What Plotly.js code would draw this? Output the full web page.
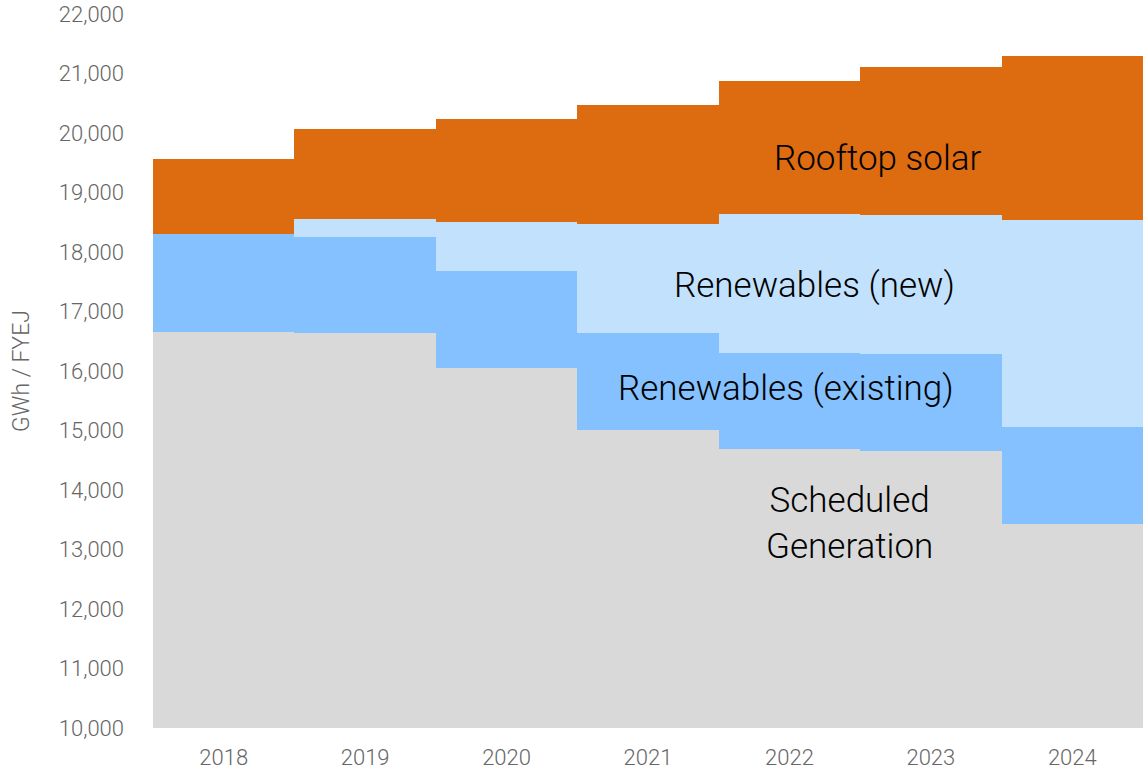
<!DOCTYPE html>
<html>
<head>
<meta charset="utf-8">
<script src="https://cdn.plot.ly/plotly-3.0.1.min.js"></script>
<style>html,body{margin:0;padding:0;background:#fff;}#chart{width:1143px;height:773px;}</style>
</head>
<body>
<div id="chart"></div>
<script>
var years = ['2018', '2019', '2020', '2021', '2022', '2023', '2024'];
var scheduledGeneration = [16660, 16640, 16050, 15005, 14690, 14660, 13430];
var renewablesExisting = [1640, 1620, 1630, 1630, 1620, 1625, 1630];
var renewablesNew = [0, 300, 820, 1840, 2330, 2340, 3475];
var rooftopSolar = [1270, 1500, 1735, 1990, 2240, 2490, 2760];
var yTickVals = [10000, 11000, 12000, 13000, 14000, 15000, 16000, 17000, 18000, 19000, 20000, 21000, 22000];

var FONT = 'Roboto, "Liberation Sans", Arial, sans-serif';
function bar(name, vals, color) {
  return {type: 'bar', name: name, x: years, y: vals, marker: {color: color, line: {width: 0}}, hoverinfo: 'y+name'};
}
var data = [
  bar('Scheduled Generation', scheduledGeneration, '#D9D9D9'),
  bar('Renewables (existing)', renewablesExisting, '#84C1FE'),
  bar('Renewables (new)', renewablesNew, '#C2E1FC'),
  bar('Rooftop solar', rooftopSolar, '#DD6B10')
];
var annFont = {family: FONT, size: 35, color: '#000', weight: 300};
function ann(text, x, y) {
  return {text: text, xref: 'paper', yref: 'paper', x: x, y: y, xanchor: 'center', yanchor: 'middle',
          showarrow: false, font: annFont, align: 'center'};
}
var layout = {
  width: 1143, height: 773,
  margin: {l: 153, r: 0, t: 14, b: 45},
  barmode: 'stack', bargap: 0,
  showlegend: false,
  paper_bgcolor: '#fff', plot_bgcolor: '#fff',
  font: {family: FONT, color: '#666', weight: 300},
  xaxis: {type: 'category', showgrid: false, zeroline: false, showline: false, ticks: '',
          tickfont: {family: FONT, size: 22, color: '#666', weight: 300}, ticklabelstandoff: 14},
  yaxis: {range: [10000, 22000], tickvals: yTickVals, tickformat: ',d', showgrid: false, zeroline: false, showline: false,
          ticks: '', ticklabelstandoff: 28,
          tickfont: {family: FONT, size: 22, color: '#666', weight: 300},
          title: {text: 'GWh / FYEJ', font: {family: FONT, size: 23, color: '#666', weight: 300}, standoff: 22}},
  annotations: [
    ann('Rooftop solar', 0.732, 0.798),
    ann('Renewables (new)', 0.668, 0.620),
    ann('Renewables (existing)', 0.639, 0.476),
    ann('Scheduled<br>Generation', 0.704, 0.287)
  ]
};
Plotly.newPlot('chart', data, layout, {displayModeBar: false, staticPlot: true});
</script>
</body>
</html>
